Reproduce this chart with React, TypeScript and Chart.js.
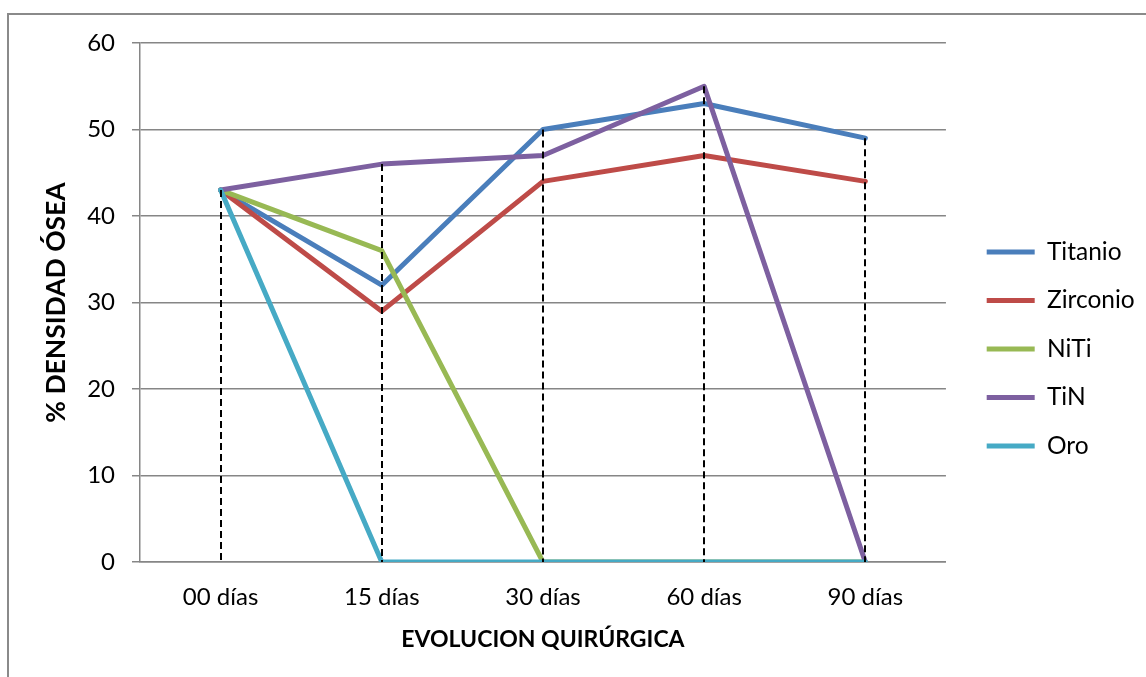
import React, { useEffect, useRef } from 'react';
import { Chart, registerables } from 'chart.js';

Chart.register(...registerables);

const categories = ['00 días', '15 días', '30 días', '60 días', '90 días'];
const titanio = [43, 32, 50, 53, 49];
const zirconio = [43, 29, 44, 47, 44];
const niti = [43, 36, 0, 0, 0];
const tin = [43, 46, 47, 55, 0];
const oro = [43, 0, 0, 0, 0];
const seriesNames = ['Titanio', 'Zirconio', 'NiTi', 'TiN', 'Oro'];
const seriesValues = [titanio, zirconio, niti, tin, oro];
const seriesColors = ['#4A7EBB', '#BE4B48', '#98B954', '#7D60A0', '#46AAC5'];
const yMin = 0;
const yMax = 60;
const yStep = 10;
const yTitle = '% DENSIDAD ÓSEA';
const xTitle = 'EVOLUCION QUIRÚRGICA';

const FONT = 'Lato, "Open Sans", sans-serif';
const GRID = '#868686';

const dropLines = {
  id: 'dropLines',
  afterDatasetsDraw(chart: any) {
    const { ctx, scales } = chart;
    const x = scales.x;
    const y = scales.y;
    ctx.save();
    ctx.strokeStyle = '#000';
    ctx.lineWidth = 2;
    ctx.setLineDash([7, 4]);
    for (let i = 0; i < categories.length; i++) {
      const maxV = Math.max(...chart.data.datasets.map((d: any) => d.data[i]));
      const px = Math.round(x.getPixelForValue(i));
      ctx.beginPath();
      ctx.moveTo(px, y.getPixelForValue(maxV));
      ctx.lineTo(px, y.getPixelForValue(yMin));
      ctx.stroke();
    }
    ctx.restore();
  },
};

const legendShift = {
  id: 'legendShift',
  afterLayout(chart: any) {
    const lg = chart.legend;
    if (lg) {
      lg.left += 16.75;
      lg.right += 16.75;
    }
  },
};

export default function App() {
  const ref = useRef<HTMLCanvasElement | null>(null);

  useEffect(() => {
    if (!ref.current) return;
    const chart = new Chart(ref.current, {
      type: 'line',
      data: {
        labels: categories,
        datasets: seriesNames.map((name, i) => ({
          label: name,
          data: seriesValues[i],
          borderColor: seriesColors[i],
          backgroundColor: seriesColors[i],
          borderWidth: 5,
          borderCapStyle: 'round',
          borderJoinStyle: 'round',
          pointRadius: 0,
          pointHoverRadius: 0,
          tension: 0,
          fill: false,
          order: seriesNames.length - i,
        })),
      },
      options: {
        responsive: false,
        animation: false,
        devicePixelRatio: 1,
        layout: { padding: { left: 37, top: 43, right: 18, bottom: 22 } },
        plugins: {
          tooltip: { enabled: false },
          legend: {
            position: 'right',
            align: 'center',
            labels: {
              usePointStyle: true,
              pointStyle: 'line',
              pointStyleWidth: 48,
              padding: 24,
              color: '#000',
              font: { family: FONT, size: 24.5 },
              sort: (a: any, b: any) => a.datasetIndex - b.datasetIndex,
            },
          },
        },
        scales: {
          x: {
            offset: true,
            grid: { display: false, drawTicks: false },
            border: { display: true, color: GRID, width: 1.5 },
            ticks: { padding: 21, color: '#000', font: { family: FONT, size: 24 } },
            title: {
              display: true,
              text: xTitle,
              color: '#000',
              font: { family: FONT, size: 23, weight: 'bold' },
              padding: { top: 4, bottom: 2 },
            },
            afterFit: (s: any) => {
              s.height = 93;
            },
          },
          y: {
            min: yMin,
            max: yMax,
            ticks: { stepSize: yStep, padding: 17, color: '#000', font: { family: FONT, size: 24 } },
            grid: { color: GRID, lineWidth: 1.5, tickLength: 8 },
            border: { color: GRID, width: 1.5 },
            title: {
              display: true,
              text: yTitle,
              color: '#000',
              font: { family: FONT, size: 26.5, weight: 'bold' },
              padding: { top: 4, bottom: 4 },
            },
            afterFit: (s: any) => {
              s.width = 103;
            },
          },
        },
      },
      plugins: [dropLines, legendShift],
    } as any);
    return () => chart.destroy();
  }, []);

  return (
    <div style={{ position: 'fixed', left: 0, top: 0, width: 1146, height: 677, background: '#fff', overflow: 'hidden' }}>
      <div
        style={{
          position: 'absolute',
          left: 7,
          top: 13,
          width: 1160,
          height: 700,
          border: '2px solid #8A8A8A',
          boxSizing: 'border-box',
        }}
      />
      <canvas ref={ref} width={1146} height={677} style={{ position: 'absolute', left: 0, top: 0 }} />
    </div>
  );
}
